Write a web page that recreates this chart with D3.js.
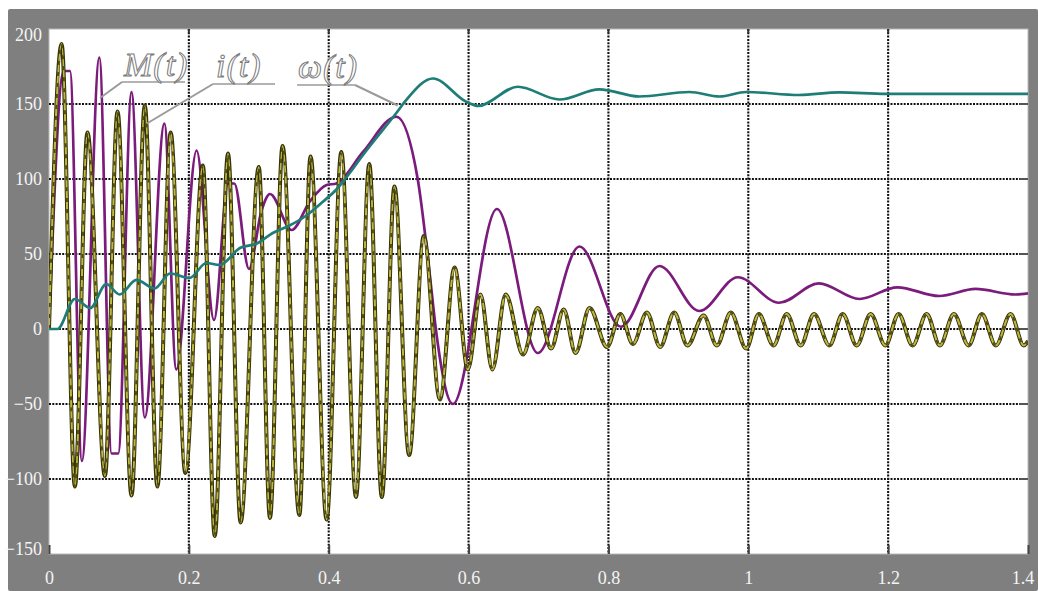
<!DOCTYPE html>
<html>
<head>
<meta charset="utf-8">
<script src="https://cdn.jsdelivr.net/npm/d3@7"></script>
<style>
  body { margin: 0; background: #fff; }
  svg { display: block; }
</style>
</head>
<body>
<svg id="chart" width="1038" height="591"></svg>
<script>
// Axis ticks
const xTicks = [0, 0.2, 0.4, 0.6, 0.8, 1, 1.2, 1.4];
const yTicks = [-150, -100, -50, 0, 50, 100, 150, 200];

// i(t): stator current (extrema of the oscillation)
const currentT = [0, 0.018, 0.037, 0.055, 0.080, 0.098, 0.118, 0.137, 0.155, 0.174, 0.195,
  0.220, 0.237, 0.256, 0.274, 0.300, 0.316, 0.334, 0.358, 0.374, 0.397, 0.418, 0.439,
  0.458, 0.476, 0.494, 0.515, 0.536, 0.559, 0.580, 0.599, 0.617, 0.634, 0.653, 0.678,
  0.699, 0.718, 0.736, 0.753, 0.773, 0.798, 0.817, 0.835, 0.855, 0.874, 0.894, 0.913,
  0.936, 0.955, 0.975, 0.997, 1.015, 1.036, 1.055, 1.075, 1.094, 1.116, 1.135, 1.155,
  1.175, 1.196, 1.215, 1.235, 1.255, 1.274, 1.294, 1.315, 1.334, 1.354, 1.375, 1.394, 1.4];
const currentV = [0, 190, -105, 131, -98, 145, -111, 149, -105, 131, -96,
  109, -138, 117, -129, 108, -126, 122, -124, 115, -127, 118, -112,
  110, -112, 95, -84, 62, -47, 41, -27, 23, -27, 23, -17,
  14, -13, 13, -16, 14, -12, 10, -10, 11, -12, 11, -11,
  9, -11, 11, -13, 10, -11, 10, -11, 10, -11, 10, -11,
  10, -11, 10, -11, 10, -11, 10, -11, 10, -11, 10, -11, -8];

// M(t): electromagnetic torque
const torqueT = [0, 0.021, 0.030, 0.047, 0.072, 0.0895, 0.099, 0.118, 0.137, 0.165, 0.182,
  0.211, 0.236, 0.256, 0.265, 0.286, 0.304, 0.316, 0.347, 0.373, 0.397, 0.411, 0.449,
  0.4967, 0.5276, 0.5443, 0.554, 0.5776, 0.6405, 0.699, 0.7586, 0.818, 0.873, 0.930,
  0.985, 1.044, 1.101, 1.159, 1.213, 1.273, 1.325, 1.382, 1.4];
const torqueV = [0, 172, 172, -88, 181, -83, -83, 158, -59, 137, -27,
  119, 6, 97, 97, 40, 79, 90, 66, 85, 96, 97, 118,
  141.5, 99, 37, -3, -50, 80, -16, 55, 1.5, 42, 12,
  34.5, 17.5, 30.4, 20, 27.8, 22, 26.7, 23, 23.7];

// ω(t): rotor speed
const speedT = [0, 0.012, 0.037, 0.059, 0.082, 0.101, 0.125, 0.151, 0.173, 0.201, 0.225,
  0.244, 0.273, 0.297, 0.320, 0.344, 0.366, 0.392, 0.411, 0.430, 0.449, 0.4967, 0.511,
  0.549, 0.5967, 0.6133, 0.6705, 0.730, 0.787, 0.844, 0.916, 0.959, 0.997, 1.073,
  1.130, 1.197, 1.300, 1.4];
const speedV = [0, 0, 20, 14, 30, 23, 32.7, 27, 37, 34, 44,
  42.7, 54, 57, 64, 69, 75, 85, 93, 104, 116, 144, 152.7,
  167, 151.5, 148.7, 161.5, 153, 159.8, 155, 158, 155, 158, 156,
  157.8, 156.7, 156.7, 156.7];

const seriesLabels = ["M(t)", "i(t)", "\u03C9(t)"];

const W = 1038, H = 591;
const plot = { left: 49, right: 1028, top: 29, bottom: 554 };

const svg = d3.select("#chart");

// Grey scope frame
svg.append("rect")
  .attr("x", 8).attr("y", 9)
  .attr("width", W - 8).attr("height", H - 9)
  .attr("rx", 2)
  .attr("fill", "#7f7f7f");

const x = d3.scaleLinear().domain([0, 1.4]).range([plot.left, plot.right]);
const y = d3.scaleLinear().domain([-150, 200]).range([plot.bottom, plot.top]);

// Plot area
svg.append("rect")
  .attr("x", plot.left).attr("y", plot.top)
  .attr("width", plot.right - plot.left).attr("height", plot.bottom - plot.top)
  .attr("fill", "#ffffff")
  .attr("stroke", "#b8b8b8").attr("stroke-width", 1);

svg.append("clipPath").attr("id", "plotClip")
  .append("rect")
  .attr("x", plot.left).attr("y", plot.top)
  .attr("width", plot.right - plot.left).attr("height", plot.bottom - plot.top);

// Dotted grid
const grid = svg.append("g").attr("class", "grid");
grid.selectAll("line.gx")
  .data(xTicks.filter(d => d > 0 && d < 1.4))
  .join("line").attr("class", "gx")
  .attr("x1", d => x(d)).attr("x2", d => x(d))
  .attr("y1", plot.top).attr("y2", plot.bottom);
grid.selectAll("line.gy")
  .data(yTicks.filter(d => d > -150 && d < 200))
  .join("line").attr("class", "gy")
  .attr("x1", plot.left).attr("x2", plot.right)
  .attr("y1", d => y(d)).attr("y2", d => y(d));
grid.selectAll("line")
  .attr("stroke", "#111")
  .attr("stroke-width", 2.1)
  .attr("stroke-dasharray", "2 1.3");

// Axes: ticks point into the plot, labels on the grey frame
const xAxis = svg.append("g")
  .attr("transform", `translate(0,${plot.bottom})`)
  .call(d3.axisBottom(x).tickValues(xTicks).tickSize(-9).tickPadding(17)
    .tickFormat(d => String(+d.toFixed(1))));
const yAxis = svg.append("g")
  .attr("transform", `translate(${plot.left},0)`)
  .call(d3.axisLeft(y).tickValues(yTicks).tickSize(0).tickPadding(7));

[xAxis, yAxis].forEach(g => {
  g.select(".domain").remove();
  g.selectAll(".tick line").attr("stroke", "#444").attr("stroke-width", 2);
  g.selectAll(".tick text")
    .attr("fill", "#f4f4f4")
    .attr("font-family", "'Liberation Serif', 'Times New Roman', serif")
    .attr("font-size", 18);
});
// keep the end labels inside the frame
xAxis.selectAll(".tick text").filter(d => d === 1.4).attr("dx", "-0.3em");
yAxis.selectAll(".tick text").filter(d => d === 200).attr("dy", "0.62em");
yAxis.selectAll(".tick text").filter(d => d === -150).attr("dy", "0.05em");

// small ticks along top and right edges
svg.append("g").selectAll("line")
  .data(xTicks.filter(d => d > 0 && d < 1.4))
  .join("line")
  .attr("x1", d => x(d)).attr("x2", d => x(d))
  .attr("y1", plot.top).attr("y2", plot.top + 4)
  .attr("stroke", "#333").attr("stroke-width", 2);
svg.append("g").selectAll("line")
  .data(yTicks.filter(d => d > -150 && d < 200))
  .join("line")
  .attr("x1", plot.right - 8).attr("x2", plot.right)
  .attr("y1", d => y(d)).attr("y2", d => y(d))
  .attr("stroke", "#555").attr("stroke-width", 2);

// Curves
const zip = (ts, vs) => ts.map((t, i) => [t, vs[i]]);
const line = d3.line()
  .x(d => x(d[0])).y(d => y(d[1]))
  .curve(d3.curveMonotoneX);

const curves = svg.append("g").attr("clip-path", "url(#plotClip)");

const torque = zip(torqueT, torqueV);
const current = zip(currentT, currentV);
const speed = zip(speedT, speedV);

curves.append("path").datum(torque)
  .attr("d", line).attr("fill", "none")
  .attr("stroke", "#7b1b7b").attr("stroke-width", 2.7)
  .attr("stroke-linejoin", "round");

// current trace: dark edge, olive core, dark dashes
curves.append("path").datum(current)
  .attr("d", line).attr("fill", "none")
  .attr("stroke", "#34320a").attr("stroke-width", 4)
  .attr("stroke-linejoin", "round");
curves.append("path").datum(current)
  .attr("d", line).attr("fill", "none")
  .attr("stroke", "#c0b83e").attr("stroke-width", 2)
  .attr("stroke-linejoin", "round");
curves.append("path").datum(current)
  .attr("d", line).attr("fill", "none")
  .attr("stroke", "#4f4c12").attr("stroke-width", 2)
  .attr("stroke-dasharray", "4 7");

curves.append("path").datum(speed)
  .attr("d", line).attr("fill", "none")
  .attr("stroke", "#1e7d76").attr("stroke-width", 2.7)
  .attr("stroke-linejoin", "round");

// Curve labels with underline and leader line
const notes = [
  { text: seriesLabels[0], tx: 124, ty: 76, u0: 122, u1: 185, uy: 82, lead: "start", pt: [0.073, 154] },
  { text: seriesLabels[1], tx: 216, ty: 77, u0: 213, u1: 275, uy: 84, lead: "start", pt: [0.140, 137] },
  { text: seriesLabels[2], tx: 298, ty: 78, u0: 297, u1: 355, uy: 85, lead: "end",   pt: [0.4986, 149] }
];
const ann = svg.append("g");
notes.forEach(n => {
  const sx = n.lead === "start" ? n.u0 : n.u1;
  ann.append("line")
    .attr("x1", n.u0).attr("x2", n.u1).attr("y1", n.uy).attr("y2", n.uy)
    .attr("stroke", "#9a9a9a").attr("stroke-width", 1.6);
  ann.append("line")
    .attr("x1", sx).attr("y1", n.uy)
    .attr("x2", x(n.pt[0])).attr("y2", y(n.pt[1]))
    .attr("stroke", "#9a9a9a").attr("stroke-width", 2);
  ann.append("text")
    .attr("x", n.tx).attr("y", n.ty)
    .attr("font-family", "'Liberation Serif', 'DejaVu Serif', serif")
    .attr("font-style", "italic")
    .attr("font-size", 34)
    .attr("letter-spacing", 1)
    .attr("fill", "#ffffff")
    .attr("stroke", "#7a7a7a").attr("stroke-width", 1)
    .text(n.text);
});
</script>
</body>
</html>
